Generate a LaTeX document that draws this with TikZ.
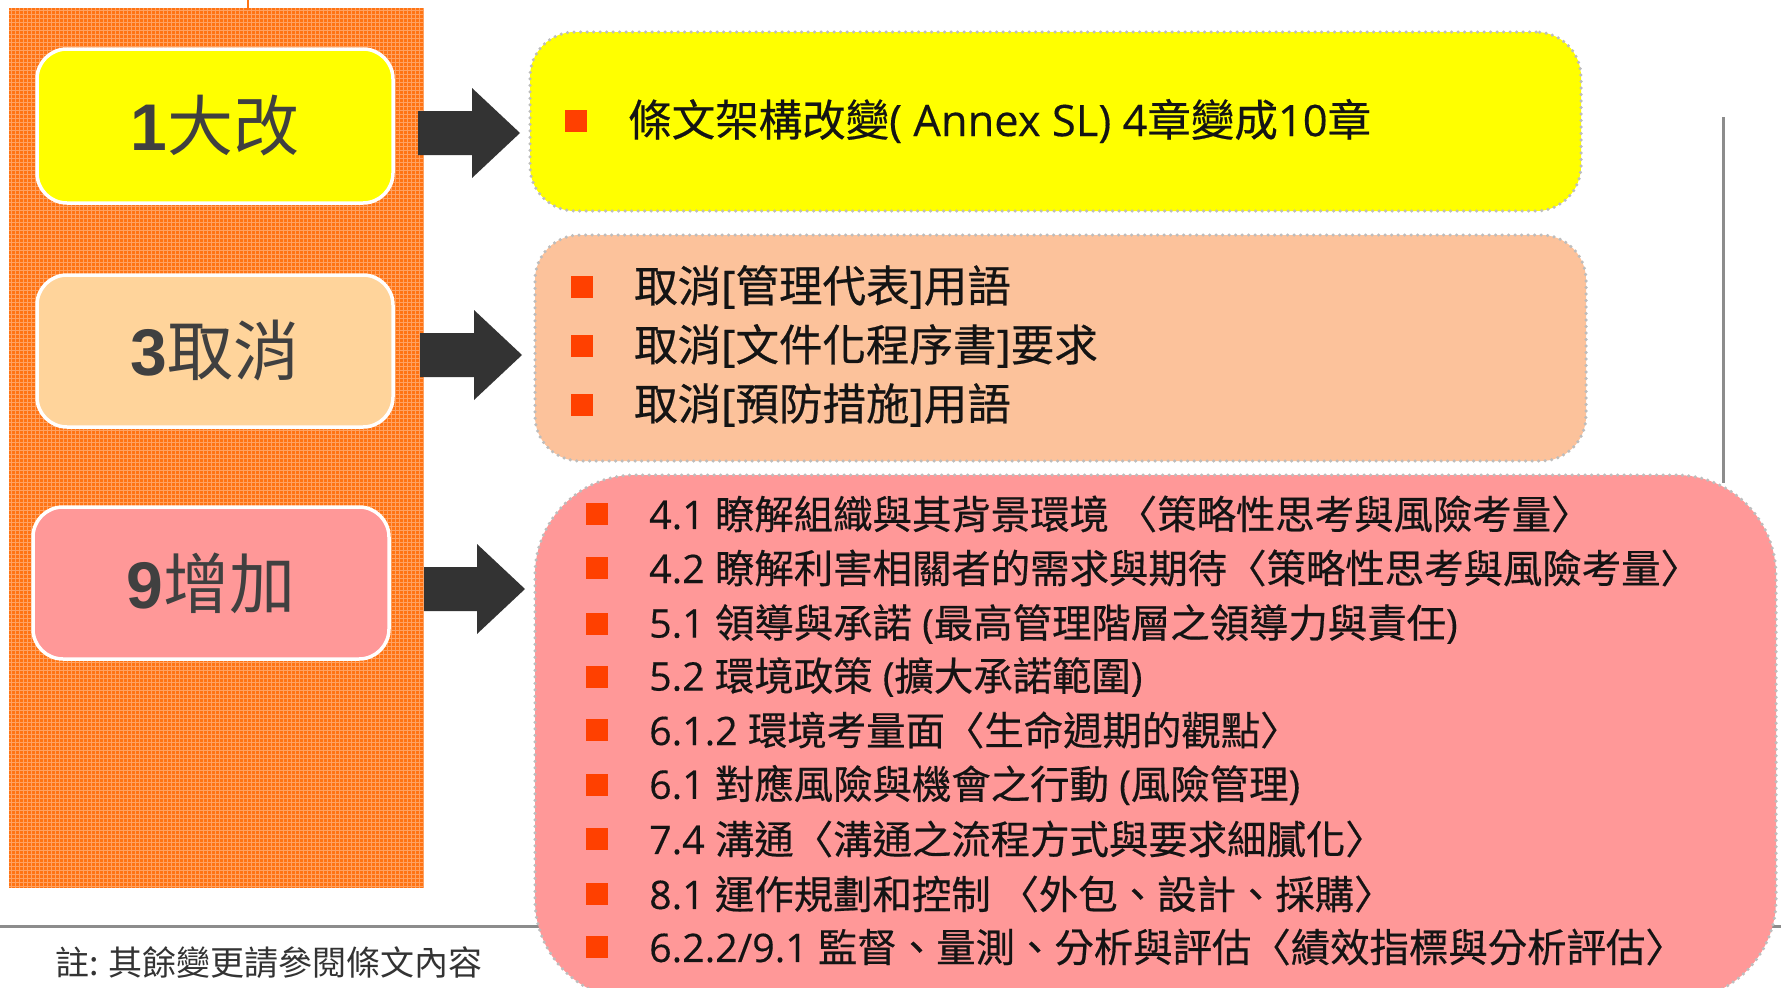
\documentclass[tikz,border=0pt]{standalone}
\usepackage{fontspec}
\setmainfont{Noto Sans CJK TC}[FakeBold=0.5]
\newfontfamily\digitfont{Liberation Sans}
\newfontfamily\lat{Open Sans}[FakeBold=0.3]
\newfontfamily\notefont{Noto Sans CJK TC}
\definecolor{orangebase}{HTML}{FF7414}
\definecolor{gridcol}{HTML}{FFA262}
\definecolor{lyellow}{HTML}{FFFF00}
\definecolor{lpeach}{HTML}{FFD49B}
\definecolor{rpeach}{HTML}{FCC29B}
\definecolor{pinkfill}{HTML}{FF9898}
\definecolor{dotgray}{HTML}{BDBDBD}
\definecolor{linegray}{HTML}{8C8C8C}
\definecolor{arrowgray}{HTML}{333333}
\definecolor{labelgray}{HTML}{404040}
\definecolor{bulletred}{HTML}{FF4000}
\definecolor{textblack}{HTML}{141414}
\definecolor{notegray}{HTML}{333333}
\newcommand\blockarrow[4]{\fill[arrowgray] (#1,#4-22) -- (#2,#4-22) -- (#2,#4-45) -- (#3,#4) -- (#2,#4+45) -- (#2,#4+22) -- (#1,#4+22) -- cycle;}
\begin{document}
\begin{tikzpicture}[x=1pt,y=-1pt,
  lbox/.style={draw=white, line width=3.5pt, rounded corners=30pt, text=labelgray,
    font=\notefont\fontsize{66}{72}\selectfont, minimum width=356pt, inner sep=0pt},
  rbox/.style={draw=dotgray, line width=3.5pt, dash pattern=on 0pt off 6.5pt, line cap=round,
    rounded corners=45pt, inner sep=0pt},
  bul/.style={fill=bulletred, minimum size=22pt, inner sep=0pt},
  itemtext/.style={anchor=west, font=\fontsize{39.4}{43}\selectfont, text=textblack, inner sep=0pt},
  itemtextbig/.style={itemtext, font=\fontsize{43.5}{47}\selectfont},
  gridline/.style={gridcol, line width=1pt},
  sepline/.style={linegray, line width=3pt}
]
\useasboundingbox (0,0) rectangle (1781,988);
% separator lines
\draw[sepline] (0,926) -- (1781,926);
\draw[sepline] (1723,117) -- (1723,483);
% orange panel
\fill[orangebase] (9,8) rectangle (423,888);
\foreach \x in {11,15,...,423} \draw[gridline] (\x,8) -- (\x,888);
\foreach \y in {10,14,...,888} \draw[gridline] (9,\y) -- (423,\y);
\draw[orangebase, line width=2pt] (248,0) -- (248,10);
% left boxes
\node[lbox, fill=lyellow, minimum height=154pt] (L1) at (215,126) {{\digitfont\bfseries 1}大改};
\node[lbox, fill=lpeach, minimum height=152pt] (L2) at (215,351) {{\digitfont\bfseries 3}取消};
\node[lbox, fill=pinkfill, minimum height=152pt] (L3) at (211,583) {{\digitfont\bfseries 9}增加};
% arrows
\blockarrow{418}{472}{520}{133}
\blockarrow{420}{474}{522}{355}
\blockarrow{424}{477}{525}{589}
% right boxes
\node[rbox, fill=lyellow, minimum width=1051pt, minimum height=179pt] (RA) at (1055.5,121.5) {};
\node[rbox, fill=rpeach, minimum width=1051pt, minimum height=226pt] (RB) at (1060.5,348) {};
\node[rbox, fill=pinkfill, rounded corners=100pt, minimum width=1241pt, minimum height=525pt] (RC) at (1155.5,737.5) {};
% box A
\node[bul] (ba1) at (576,121) {};
\node[itemtextbig] (ta1) at (628,121) {條文架構改變{\lat( Annex SL) 4}章變成{\lat 10}章};
% box B
\node[bul] (bb1) at (582,287) {};
\node[itemtextbig] (tb1) at (634,287) {取消{\lat[}管理代表{\lat]}用語};
\node[bul] (bb2) at (582,346) {};
\node[itemtextbig] (tb2) at (634,346) {取消{\lat[}文件化程序書{\lat]}要求};
\node[bul] (bb3) at (582,405) {};
\node[itemtextbig] (tb3) at (634,405) {取消{\lat[}預防措施{\lat]}用語};
% box C
\node[bul] (bc1) at (597,514) {};
\node[itemtext] (tc1) at (649,514) {{\lat 4.1 }瞭解組織與其背景環境 〈策略性思考與風險考量〉};
\node[bul] (bc2) at (597,568) {};
\node[itemtext] (tc2) at (649,568) {{\lat 4.2 }瞭解利害相關者的需求與期待〈策略性思考與風險考量〉};
\node[bul] (bc3) at (597,624) {};
\node[itemtext] (tc3) at (649,624) {{\lat 5.1 }領導與承諾{\lat\ (}最高管理階層之領導力與責任{\lat )}};
\node[bul] (bc4) at (597,677) {};
\node[itemtext] (tc4) at (649,677) {{\lat 5.2 }環境政策{\lat\ (}擴大承諾範圍{\lat )}};
\node[bul] (bc5) at (597,730) {};
\node[itemtext] (tc5) at (649,730) {{\lat 6.1.2 }環境考量面〈生命週期的觀點〉};
\node[bul] (bc6) at (597,785) {};
\node[itemtext] (tc6) at (649,785) {{\lat 6.1 }對應風險與機會之行動{\lat\ (}風險管理{\lat )}};
\node[bul] (bc7) at (597,839) {};
\node[itemtext] (tc7) at (649,839) {{\lat 7.4 }溝通〈溝通之流程方式與要求細膩化〉};
\node[bul] (bc8) at (597,894) {};
\node[itemtext] (tc8) at (649,894) {{\lat 8.1 }運作規劃和控制 〈外包、設計、採購〉};
\node[bul] (bc9) at (597,947) {};
\node[itemtext] (tc9) at (649,947) {{\lat 6.2.2/9.1 }監督、量測、分析與評估〈績效指標與分析評估〉};
% note
\node[anchor=west, inner sep=0pt, font=\notefont\fontsize{34}{37}\selectfont, text=notegray] (note) at (55,963) {註: 其餘變更請參閱條文內容};
\end{tikzpicture}
\end{document}
